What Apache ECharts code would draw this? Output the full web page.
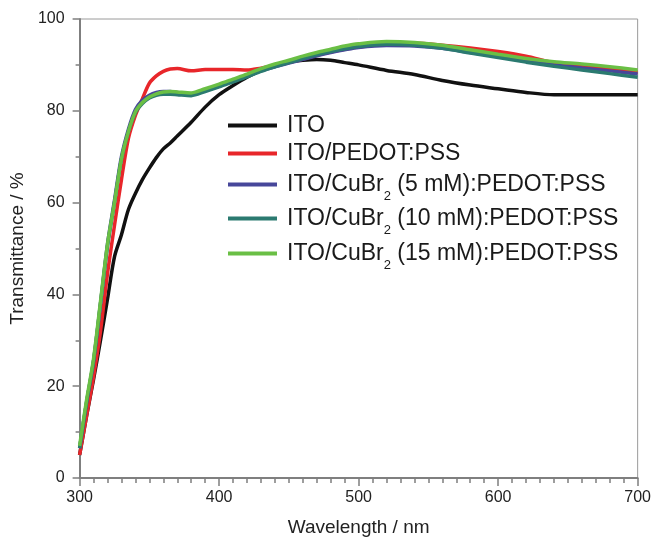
<!DOCTYPE html>
<html>
<head>
<meta charset="utf-8">
<script src="https://cdn.jsdelivr.net/npm/echarts@6/dist/echarts.min.js"></script>
<style>
html,body{margin:0;padding:0;background:#fff;}
#c{width:654px;height:542px;}
</style>
</head>
<body>
<div id="c"></div>
<script>
const wavelengths = [300,305,310,315,320,325,330,335,340,345,350,355,360,365,370,380,390,400,410,420,430,440,450,460,470,480,490,500,520,540,560,580,600,620,640,660,680,700];
const ito      = [5,13.5,21.5,30,39,48.2,53,58.5,62,65,67.5,69.8,71.7,73,74.5,77.5,80.8,83.5,85.5,87.3,88.8,90,90.6,91,91.2,91,90.5,90,88.8,87.9,86.6,85.6,84.8,84.0,83.5,83.5,83.5,83.5];
const pedot    = [5,13.5,22,32,44.5,55,65,74,79,82.6,86,87.6,88.6,89.1,89.2,88.7,89,89,89,88.9,89.3,89.8,90.5,91.3,92.1,92.8,93.4,93.9,94.5,94.7,94.3,93.7,92.9,91.9,90.5,89.8,89.2,88.4];
const cu5      = [6.5,16.5,25.5,38,51,60.5,70,76,80.3,82.3,83.4,84,84.2,84.2,84,83.7,84.4,85.4,86.5,87.6,88.7,89.6,90.4,91.2,92,92.7,93.3,93.8,94.2,94.1,93.6,92.7,91.8,90.8,90,89.3,88.7,88];
const cu10     = [6.5,16.5,25.5,38,50.5,60,69.5,75.5,79.6,81.6,82.8,83.4,83.6,83.6,83.5,83.3,84.2,85.2,86.3,87.4,88.6,89.6,90.5,91.4,92.2,92.9,93.5,94,94.5,94.3,93.6,92.6,91.6,90.6,89.7,88.9,88.1,87.3];
const cu15     = [7,17,26,38.5,51,60,69.5,75.5,79.8,81.8,83,83.7,84.1,84.2,84.1,83.9,84.8,85.8,86.9,88,89.2,90.2,91,91.9,92.7,93.4,94.1,94.6,95.1,94.9,94.3,93.3,92.3,91.4,90.7,90.2,89.6,88.9];

const seriesNames = ['ITO','ITO/PEDOT:PSS','ITO/CuBr₂ (5 mM):PEDOT:PSS','ITO/CuBr₂ (10 mM):PEDOT:PSS','ITO/CuBr₂ (15 mM):PEDOT:PSS'];
const seriesValues = [ito, pedot, cu5, cu10, cu15];
const seriesColors = ['#111111','#e8262a','#47479a','#2b7a70','#6abf45'];
const xTicks = [300,400,500,600,700];
const yTicks = [0,20,40,60,80,100];

const FONT = 'Liberation Sans, Arial, sans-serif';
const legendCenters = [127, 155, 186, 220, 255];

function fmt(name){
  const parts = name.split('₂');
  if (parts.length === 1) return '{g| }{a|' + name + '}';
  return '{g| }{a|' + parts[0] + '}{s|2}{a|' + parts[1] + '}';
}
const rich = {
  a: {fontSize: 23, lineHeight: 36, fontFamily: FONT, color: '#1a1a1a'},
  s: {fontSize: 13, lineHeight: 14, verticalAlign: 'bottom', fontFamily: FONT, color: '#1a1a1a'},
  g: {width: 5, lineHeight: 36, fontSize: 10}
};

const chart = echarts.init(document.getElementById('c'), null, {renderer: 'canvas'});
chart.setOption({
  animation: false,
  backgroundColor: '#fff',
  grid: {left: 75, right: 15, top: 19, bottom: 61, show: true, borderColor: '#9a9a9a', borderWidth: 1},
  legend: seriesNames.map((n, i) => ({
    data: [n],
    left: 223,
    top: legendCenters[i] - 18,
    icon: 'rect',
    itemWidth: 49,
    itemHeight: 4,
    selectedMode: false,
    formatter: fmt,
    textStyle: {rich: rich}
  })),
  xAxis: {
    type: 'value', min: xTicks[0], max: xTicks[xTicks.length-1], interval: 100,
    name: 'Wavelength / nm', nameLocation: 'middle', nameGap: 40,
    nameTextStyle: {fontSize: 19, color: '#222', fontFamily: FONT},
    axisLine: {show: true, onZero: false, lineStyle: {color: '#7f7f7f', width: 2}},
    axisTick: {show: true, length: 8, lineStyle: {color: '#7f7f7f', width: 1.5}},
    minorTick: {show: true, splitNumber: 10, length: 5, lineStyle: {color: '#7f7f7f', width: 1.5}},
    splitLine: {show: false},
    axisLabel: {fontSize: 16, color: '#222', margin: 12, fontFamily: FONT}
  },
  yAxis: {
    type: 'value', min: yTicks[0], max: yTicks[yTicks.length-1], interval: 20,
    name: 'Transmittance / %', nameLocation: 'middle', nameGap: 46, nameRotate: 90,
    nameTextStyle: {fontSize: 19, color: '#222', fontFamily: FONT},
    axisLine: {show: true, onZero: false, lineStyle: {color: '#7f7f7f', width: 2}},
    axisTick: {show: true, length: 7, lineStyle: {color: '#7f7f7f', width: 1.5}},
    minorTick: {show: true, splitNumber: 2, length: 4, lineStyle: {color: '#7f7f7f', width: 1.5}},
    splitLine: {show: false},
    axisLabel: {fontSize: 16, color: '#222', margin: 15, fontFamily: FONT}
  },
  series: seriesNames.map((n, i) => ({
    name: n,
    type: 'line',
    symbol: 'none',
    smooth: 0.3,
    color: seriesColors[i],
    itemStyle: {color: seriesColors[i]},
    lineStyle: {width: 3.5, color: seriesColors[i]},
    data: wavelengths.map((w, k) => [w, seriesValues[i][k]])
  }))
});
</script>
</body>
</html>
